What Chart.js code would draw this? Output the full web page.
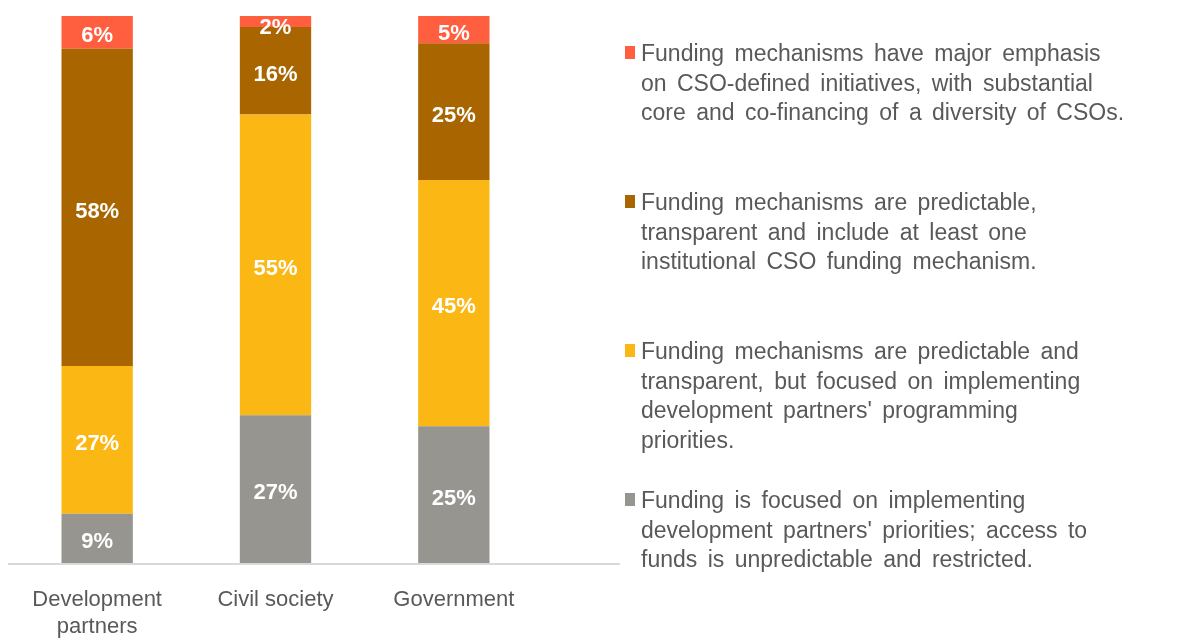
<!DOCTYPE html>
<html>
<head>
<meta charset="utf-8">
<script src="https://cdn.jsdelivr.net/npm/chart.js@4/dist/chart.umd.min.js"></script>
<style>
  html, body { margin: 0; padding: 0; background: #fff; }
  #wrap { width: 1195px; height: 641px; }
</style>
</head>
<body>
<div id="wrap"><canvas id="fundingChart"></canvas></div>
<script>
// Categories along the x axis (arrays = multi-line tick labels)
const categories = [['Development', 'partners'], 'Civil society', 'Government'];

// Shares in percent, bottom segment first
const unpredictable = [9, 27, 25];
const partnerPriorities = [27, 55, 45];
const institutional = [58, 16, 25];
const csoDefined = [6, 2, 5];

// Legend wording, one entry per line
const unpredictableText = [
  'Funding is focused on implementing',
  'development partners\' priorities; access to',
  'funds is unpredictable and restricted.'
];
const partnerPrioritiesText = [
  'Funding mechanisms are predictable and',
  'transparent, but focused on implementing',
  'development partners\' programming',
  'priorities.'
];
const institutionalText = [
  'Funding mechanisms are predictable,',
  'transparent and include at least one',
  'institutional CSO funding mechanism.'
];
const csoDefinedText = [
  'Funding mechanisms have major emphasis',
  'on CSO-defined initiatives, with substantial',
  'core and co-financing of a diversity of CSOs.'
];

const FONT = '"Liberation Sans", Arial, sans-serif';
const TEXT_GREY = '#595959';

// white percentage labels inside each segment
const segmentLabels = {
  id: 'segmentLabels',
  afterDatasetsDraw(chart) {
    const ctx = chart.ctx;
    ctx.save();
    ctx.font = 'bold 22px ' + FONT;
    ctx.fillStyle = '#fff';
    ctx.textAlign = 'center';
    ctx.textBaseline = 'middle';
    chart.data.datasets.forEach((ds, i) => {
      chart.getDatasetMeta(i).data.forEach((bar, j) => {
        const top = Math.min(bar.y, bar.base);
        const mid = (bar.y + bar.base) / 2 + 4;
        ctx.fillText(ds.data[j] + '%', bar.x, Math.max(mid, top + 12));
      });
    });
    ctx.restore();
  }
};

// baseline + the legend block on the right
const sideLegend = {
  id: 'sideLegend',
  afterDraw(chart) {
    const ctx = chart.ctx;
    const area = chart.chartArea;
    const left = 625;
    ctx.save();
    ctx.strokeStyle = '#d9d9d9';
    ctx.lineWidth = 2;
    ctx.beginPath();
    ctx.moveTo(area.left, area.bottom + 1);
    ctx.lineTo(left - 5, area.bottom + 1);
    ctx.stroke();

    ctx.font = '23px ' + FONT;
    ctx.textBaseline = 'middle';
    ctx.textAlign = 'left';
    if ('wordSpacing' in ctx) ctx.wordSpacing = '4px';
    const items = chart.data.datasets.slice().reverse();
    items.forEach((ds, k) => {
      const y0 = 55 + k * 149;
      ctx.fillStyle = ds.backgroundColor;
      ctx.fillRect(left, y0 - 9, 10, 13);
      ctx.fillStyle = TEXT_GREY;
      ds.legendLines.forEach((line, n) => {
        ctx.fillText(line, left + 16, y0 + n * 29.5);
      });
    });
    ctx.restore();
  }
};

new Chart(document.getElementById('fundingChart'), {
  type: 'bar',
  data: {
    labels: categories,
    datasets: [
      { label: 'Unpredictable', data: unpredictable, backgroundColor: '#97958f', legendLines: unpredictableText },
      { label: 'Partner priorities', data: partnerPriorities, backgroundColor: '#fbb814', legendLines: partnerPrioritiesText },
      { label: 'Institutional', data: institutional, backgroundColor: '#a96500', legendLines: institutionalText },
      { label: 'CSO-defined', data: csoDefined, backgroundColor: '#ff5f3f', legendLines: csoDefinedText }
    ]
  },
  options: {
    responsive: true,
    maintainAspectRatio: false,
    animation: false,
    layout: { padding: { left: 8, right: 652, top: 16, bottom: 0 } },
    datasets: { bar: { categoryPercentage: 1, barPercentage: 0.4 } },
    plugins: { legend: { display: false }, tooltip: { enabled: false } },
    scales: {
      x: {
        stacked: true,
        grid: { display: false, drawTicks: false },
        border: { display: false },
        ticks: { color: TEXT_GREY, font: { family: FONT, size: 22 }, padding: 24, maxRotation: 0 },
        afterFit(scale) { scale.height = 78; }
      },
      y: { stacked: true, display: false, min: 0, max: 100 }
    }
  },
  plugins: [segmentLabels, sideLegend]
});
</script>
</body>
</html>
